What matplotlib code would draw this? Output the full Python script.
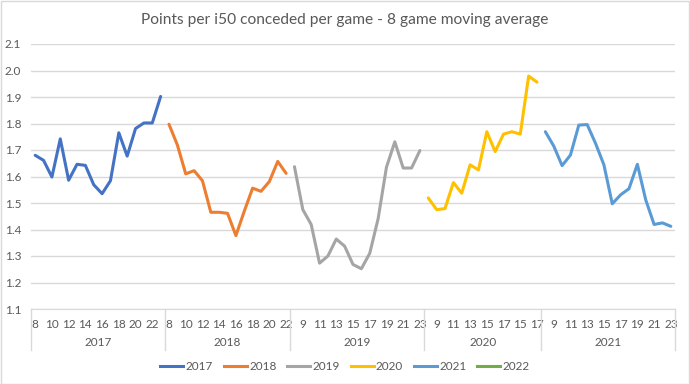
import numpy as np
import matplotlib
matplotlib.use("Agg")
from matplotlib import pyplot as plt
from matplotlib.transforms import blended_transform_factory
from matplotlib.lines import Line2D
from matplotlib.patches import Rectangle

plt.rcParams['font.family'] = ['Lato', 'DejaVu Sans']

years = ["2017", "2018", "2019", "2020", "2021", "2022"]
colors = ["#4472C4", "#ED7D31", "#A5A5A5", "#FFC000", "#5B9BD5", "#70AD47"]

rounds_2017 = list(range(8, 24))
rounds_2018 = list(range(8, 23))
rounds_2019 = list(range(8, 24))
rounds_2020 = [8, 9, 10, 11, 12, 13, 14, 15, 16, 17, 18, 15, 16, 17]
rounds_2021 = list(range(8, 24))
rounds_2022 = []

vals_2017 = [1.68, 1.661, 1.598, 1.742, 1.586, 1.646, 1.642, 1.569, 1.535,
             1.584, 1.765, 1.677, 1.781, 1.802, 1.802, 1.902]
vals_2018 = [1.797, 1.719, 1.61, 1.622, 1.584, 1.465, 1.465, 1.461, 1.377,
             1.469, 1.556, 1.544, 1.581, 1.657, 1.612]
vals_2019 = [1.637, 1.475, 1.419, 1.273, 1.30, 1.364, 1.337, 1.268, 1.252,
             1.31, 1.44, 1.635, 1.731, 1.632, 1.632, 1.698]
vals_2020 = [1.519, 1.475, 1.479, 1.577, 1.537, 1.644, 1.625, 1.769, 1.694,
             1.76, 1.769, 1.76, 1.979, 1.956]
vals_2021 = [1.769, 1.715, 1.641, 1.681, 1.794, 1.796, 1.725, 1.644, 1.497,
             1.531, 1.554, 1.646, 1.512, 1.419, 1.425, 1.412]
vals_2022 = []

rounds = [rounds_2017, rounds_2018, rounds_2019, rounds_2020, rounds_2021, rounds_2022]
values = [vals_2017, vals_2018, vals_2019, vals_2020, vals_2021, vals_2022]

W, H = 690, 384
fig = plt.figure(figsize=(W / 100, H / 100), dpi=100)
ax = fig.add_axes([31 / W, (H - 309) / H, (675 - 31) / W, (309 - 44) / H])

grid_c = "#D9D9D9"
text_c = "#595959"

start = 0
tick_pos, tick_lab, bounds, mids = [], [], [0], []
for yr, rr, vv, c in zip(years, rounds, values, colors):
    n = len(rr)
    if n == 0:
        continue
    idx = np.arange(start, start + n)
    if len(vv):
        ax.plot(idx, vv, color=c, lw=2.2, solid_capstyle='round', solid_joinstyle='round')
    for i, r in zip(idx, rr):
        if i % 2 == 0:
            tick_pos.append(i)
            tick_lab.append(str(r))
    mids.append((start - 0.5 + start + n - 0.5) / 2)
    start += n
    bounds.append(start)

total = start
ax.set_xlim(-0.5, total - 0.5)
ax.set_ylim(1.1, 2.1)
ax.set_yticks(np.round(np.arange(1.1, 2.11, 0.1), 1))
ax.set_yticklabels([f"{v:.1f}" for v in np.arange(1.1, 2.11, 0.1)])
ax.set_xticks(tick_pos)
ax.set_xticklabels(tick_lab)
ax.tick_params(axis='both', length=0, labelsize=8.5, colors=text_c)
ax.tick_params(axis='x', pad=7.5)
ax.tick_params(axis='y', pad=7)
ax.grid(axis='y', color=grid_c, lw=1)
ax.set_axisbelow(True)
for s in ["top", "right", "left"]:
    ax.spines[s].set_visible(False)
ax.spines["bottom"].set_color(grid_c)

trans = blended_transform_factory(ax.transData, ax.transAxes)
for b in bounds:
    ax.plot([b - 0.5, b - 0.5], [0, -0.155], transform=trans, color=grid_c,
            lw=1, clip_on=False)
yr_with = [y for y, r in zip(years, rounds) if len(r)]
for m, yr in zip(mids, yr_with):
    ax.text(m, -0.128, yr, transform=trans, ha='center', va='center',
            fontsize=8.5, color=text_c)

fig.text(0.5, 1 - 20 / H, "Points per i50 conceded per game - 8 game moving average",
         ha='center', va='center', fontsize=11.2, color="#595959")

handles = [Line2D([], [], color=c, lw=2.2) for c in colors]
fig.legend(handles, years, loc='center', bbox_to_anchor=(0.5, 1 - 367 / H),
           ncol=6, frameon=False, fontsize=8.5, handlelength=1.95,
           columnspacing=0.9, handletextpad=0.2, labelcolor=text_c)

fig.patches.append(Rectangle((0.5 / W, 0.5 / H), 1 - 1.5 / W, 1 - 1.5 / H,
                             transform=fig.transFigure, fill=False,
                             edgecolor=grid_c, lw=1))

fig.savefig("out.png", dpi=100)
